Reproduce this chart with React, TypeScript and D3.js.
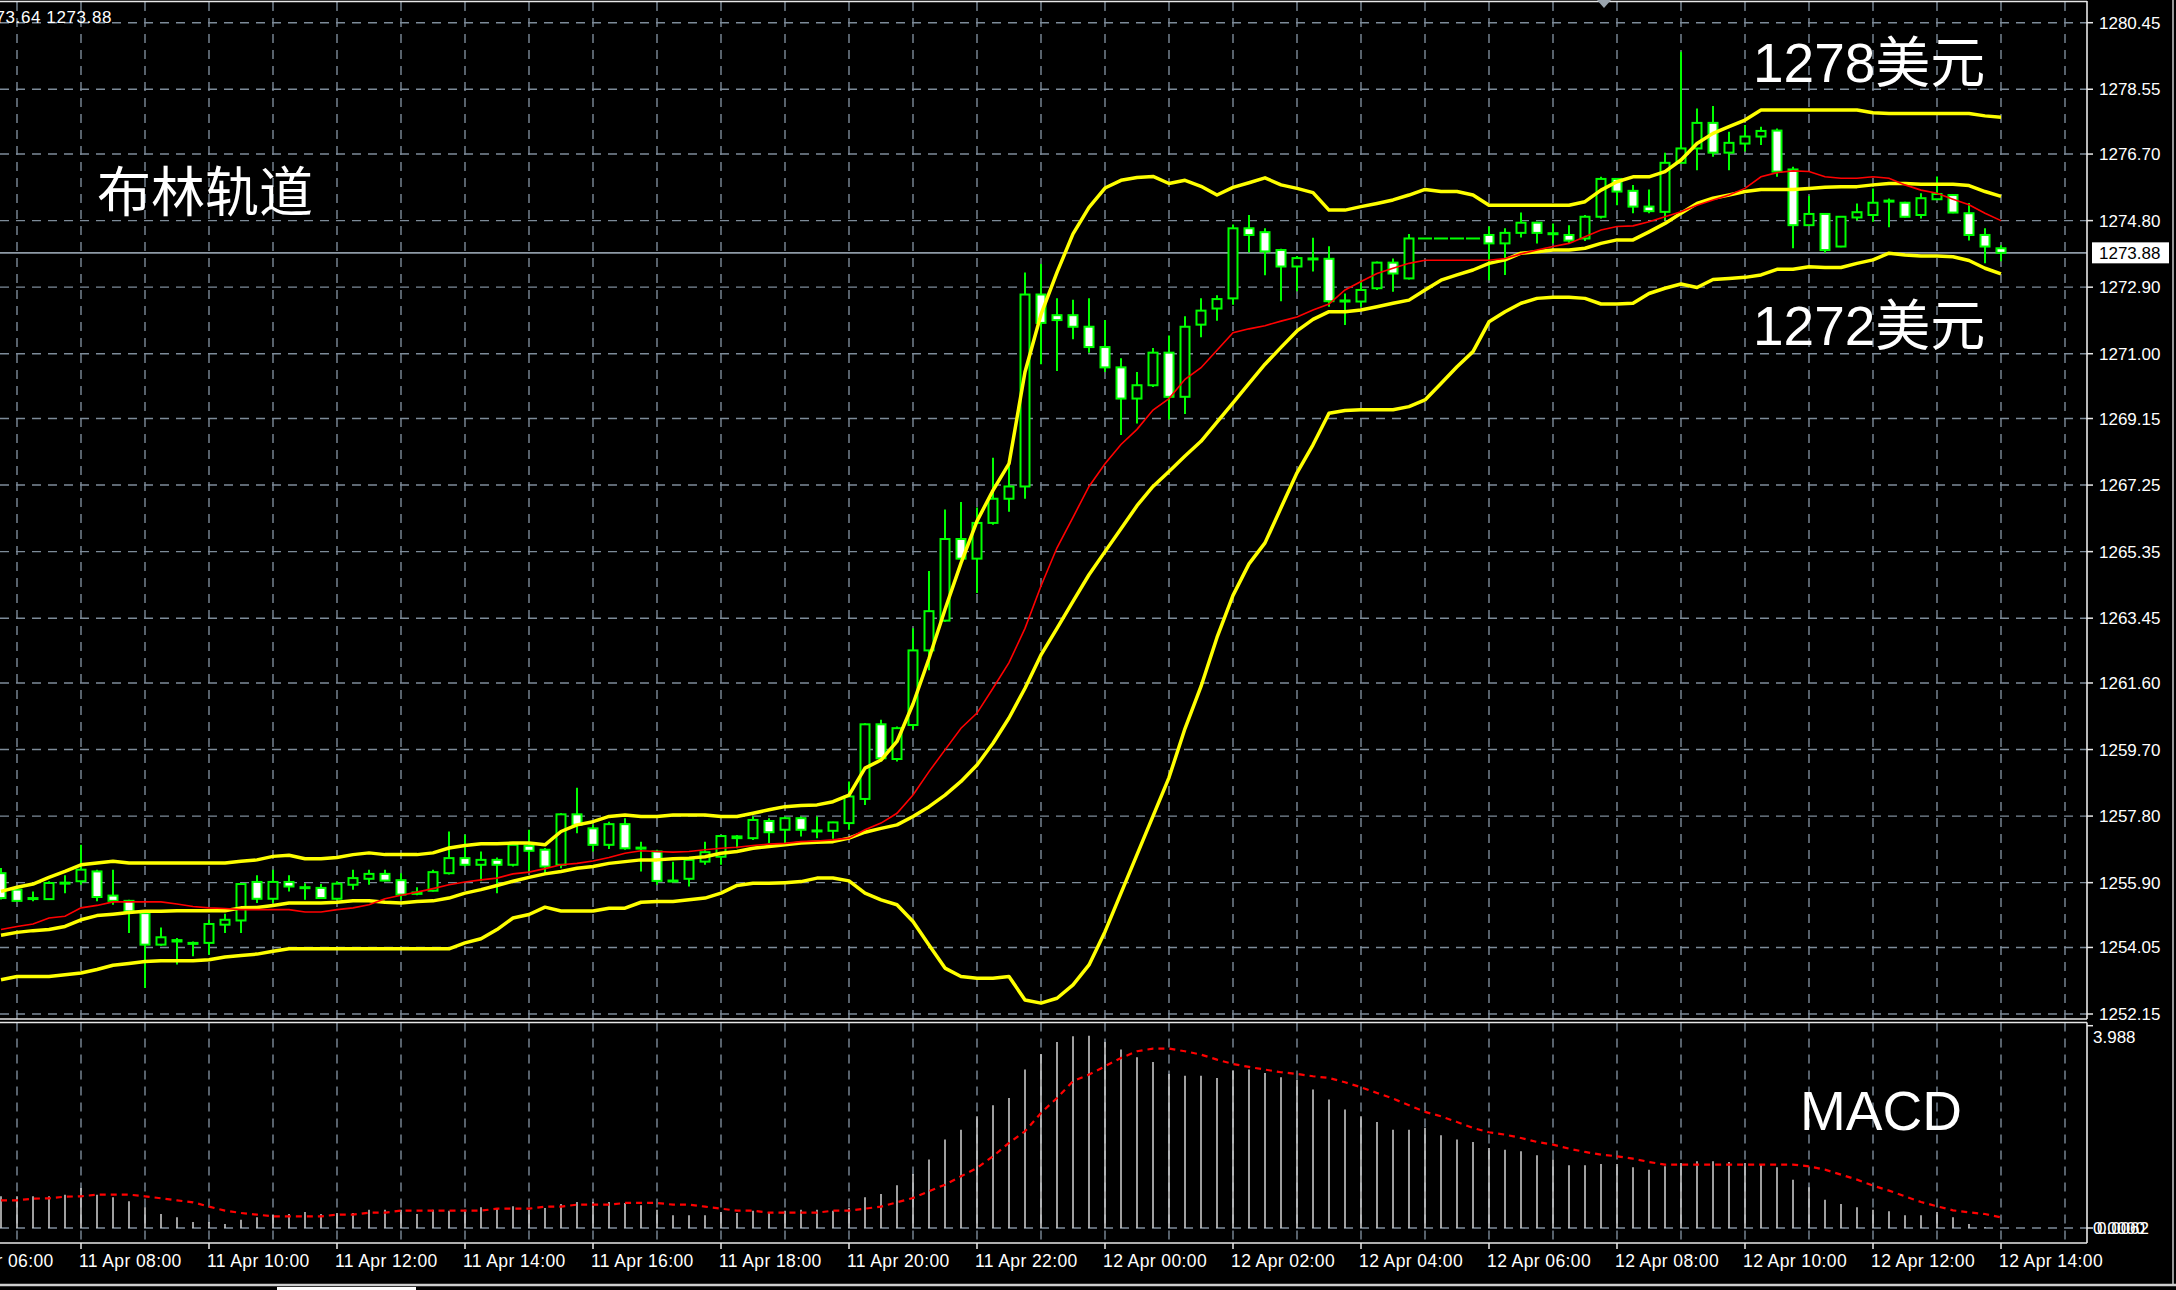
import * as d3 from "d3";

// M15 candles, 11 Apr 06:45 .. 12 Apr 14:00
const OPEN = [
  1256.17, 1255.70, 1255.46, 1255.43, 1255.88, 1255.94, 1256.22, 1255.53, 1255.38, 1255.03,
  1254.13, 1254.26, 1254.18, 1254.18, 1254.70, 1254.82, 1255.92, 1255.44, 1255.92, 1255.77,
  1255.75, 1255.44, 1255.84, 1256.01, 1256.15, 1255.97, 1255.58, 1255.67, 1256.17, 1256.60,
  1256.41, 1256.55, 1256.41, 1256.95, 1256.84, 1256.41, 1257.85, 1257.45, 1256.98, 1257.57,
  1256.88, 1256.79, 1255.96, 1256.01, 1256.50, 1256.64, 1257.17, 1257.17, 1257.66, 1257.41,
  1257.74, 1257.38, 1257.38, 1257.60, 1258.29, 1260.42, 1259.43, 1260.40, 1262.53, 1263.38,
  1265.71, 1265.15, 1266.17, 1266.86, 1267.21, 1272.69, 1272.10, 1272.10, 1271.77, 1271.19,
  1270.61, 1269.72, 1270.10, 1271.03, 1269.77, 1271.83, 1272.29, 1272.58, 1274.58, 1274.47,
  1273.96, 1273.49, 1273.71, 1273.71, 1272.52, 1272.49, 1272.87, 1273.60, 1273.15, 1274.29,
  1274.29, 1274.29, 1274.29, 1274.39, 1274.15, 1274.45, 1274.74, 1274.43, 1274.39, 1274.29,
  1274.91, 1275.99, 1275.65, 1275.20, 1275.05, 1276.45, 1276.86, 1277.59, 1276.74, 1277.00,
  1277.20, 1277.37, 1276.26, 1274.67, 1274.99, 1274.06, 1274.89, 1274.96, 1275.37, 1275.31,
  1274.96, 1275.41, 1275.53, 1275.01, 1274.39, 1274.01,
];
const HIGH = [
  1256.32, 1255.75, 1255.65, 1255.94, 1256.11, 1256.98, 1256.27, 1256.27, 1255.41, 1255.08,
  1254.62, 1254.32, 1254.22, 1254.84, 1255.01, 1255.89, 1256.11, 1256.27, 1256.11, 1255.88,
  1255.86, 1255.94, 1256.27, 1256.27, 1256.27, 1256.17, 1255.77, 1256.27, 1257.36, 1257.27,
  1256.79, 1256.62, 1257.03, 1257.41, 1256.89, 1257.89, 1258.61, 1257.55, 1257.64, 1257.74,
  1257.07, 1256.84, 1256.50, 1256.60, 1257.07, 1257.26, 1257.26, 1257.79, 1257.74, 1257.79,
  1257.79, 1257.79, 1257.64, 1258.79, 1260.45, 1260.55, 1260.36, 1263.16, 1264.80, 1266.55,
  1266.77, 1266.61, 1268.03, 1267.81, 1273.32, 1273.56, 1272.58, 1272.54, 1272.58, 1271.96,
  1270.87, 1270.48, 1271.16, 1271.52, 1272.07, 1272.58, 1272.67, 1274.69, 1274.96, 1274.58,
  1274.00, 1273.79, 1274.31, 1274.07, 1272.72, 1273.10, 1273.63, 1273.72, 1274.42, 1274.29,
  1274.29, 1274.29, 1274.29, 1274.63, 1274.58, 1275.03, 1274.77, 1274.72, 1274.67, 1274.96,
  1276.05, 1276.01, 1275.82, 1275.69, 1276.74, 1279.62, 1278.00, 1278.07, 1277.34, 1277.53,
  1277.48, 1277.43, 1276.34, 1275.50, 1275.01, 1274.93, 1275.29, 1275.72, 1275.43, 1275.34,
  1275.58, 1276.06, 1275.55, 1275.30, 1274.58, 1274.10,
];
const LOW = [
  1255.42, 1255.38, 1255.37, 1255.43, 1255.60, 1255.84, 1255.37, 1255.27, 1254.46, 1252.89,
  1254.10, 1253.56, 1253.80, 1253.84, 1254.46, 1254.46, 1255.32, 1255.32, 1255.65, 1255.41,
  1255.44, 1255.41, 1255.70, 1255.84, 1255.94, 1255.41, 1255.54, 1255.65, 1256.13, 1256.36,
  1255.94, 1255.60, 1256.36, 1256.22, 1256.17, 1256.31, 1257.31, 1256.79, 1256.86, 1256.84,
  1256.22, 1255.84, 1255.93, 1255.79, 1256.41, 1256.41, 1256.88, 1257.12, 1257.03, 1256.98,
  1257.22, 1257.17, 1257.15, 1257.41, 1258.12, 1259.36, 1259.36, 1260.27, 1261.96, 1263.35,
  1265.13, 1264.17, 1266.12, 1266.49, 1266.86, 1270.70, 1270.51, 1271.41, 1271.03, 1270.48,
  1268.68, 1269.01, 1270.05, 1269.12, 1269.28, 1271.47, 1271.94, 1272.40, 1273.89, 1273.24,
  1272.50, 1272.78, 1273.35, 1272.34, 1271.82, 1272.34, 1272.82, 1272.77, 1273.12, 1274.29,
  1274.29, 1274.29, 1274.29, 1273.10, 1273.25, 1274.32, 1274.15, 1274.15, 1274.15, 1274.22,
  1274.86, 1275.24, 1275.01, 1275.01, 1274.82, 1276.43, 1276.24, 1276.62, 1276.24, 1276.77,
  1276.96, 1276.05, 1274.01, 1274.65, 1273.88, 1274.04, 1274.80, 1274.77, 1274.61, 1274.89,
  1274.86, 1275.39, 1275.01, 1274.23, 1273.58, 1273.64,
];
const CLOSE = [
  1255.46, 1255.38, 1255.46, 1255.89, 1255.90, 1256.27, 1255.49, 1255.38, 1255.08, 1254.13,
  1254.34, 1254.22, 1254.18, 1254.72, 1254.84, 1255.86, 1255.44, 1255.92, 1255.79, 1255.77,
  1255.46, 1255.87, 1256.03, 1256.15, 1255.96, 1255.56, 1255.62, 1256.20, 1256.60, 1256.41,
  1256.55, 1256.41, 1256.98, 1256.81, 1256.36, 1257.85, 1257.55, 1256.98, 1257.57, 1256.88,
  1256.90, 1255.95, 1255.96, 1256.55, 1256.77, 1257.23, 1257.22, 1257.69, 1257.34, 1257.74,
  1257.41, 1257.39, 1257.62, 1258.36, 1260.42, 1259.45, 1260.31, 1262.53, 1263.65, 1265.71,
  1265.15, 1266.17, 1266.86, 1267.21, 1272.69, 1271.88, 1271.96, 1271.77, 1271.19, 1270.61,
  1269.72, 1270.10, 1271.03, 1269.77, 1271.77, 1272.23, 1272.56, 1274.58, 1274.39, 1273.92,
  1273.49, 1273.73, 1273.72, 1272.50, 1272.49, 1272.82, 1273.60, 1273.29, 1274.29, 1274.29,
  1274.29, 1274.29, 1274.29, 1274.15, 1274.45, 1274.74, 1274.45, 1274.44, 1274.23, 1274.91,
  1275.99, 1275.63, 1275.20, 1275.07, 1276.45, 1276.86, 1277.59, 1276.74, 1277.02, 1277.20,
  1277.36, 1276.20, 1274.67, 1274.99, 1273.96, 1274.91, 1275.04, 1275.31, 1275.36, 1274.91,
  1275.44, 1275.56, 1275.03, 1274.39, 1274.06, 1273.88,
];

// Bollinger bands
const BB_UPPER = [
  1255.65, 1255.77, 1255.86, 1256.05, 1256.22, 1256.41, 1256.46, 1256.51, 1256.46, 1256.46,
  1256.46, 1256.46, 1256.46, 1256.46, 1256.46, 1256.51, 1256.55, 1256.65, 1256.68, 1256.58,
  1256.58, 1256.62, 1256.70, 1256.75, 1256.70, 1256.70, 1256.70, 1256.75, 1256.89, 1256.96,
  1257.01, 1257.01, 1257.03, 1257.03, 1256.98, 1257.36, 1257.55, 1257.64, 1257.79, 1257.83,
  1257.79, 1257.79, 1257.83, 1257.83, 1257.83, 1257.79, 1257.79, 1257.88, 1257.98, 1258.07,
  1258.10, 1258.12, 1258.21, 1258.40, 1259.17, 1259.40, 1259.93, 1261.00, 1262.30, 1263.70,
  1265.02, 1266.22, 1267.10, 1267.86, 1270.48, 1272.12, 1273.32, 1274.42, 1275.18, 1275.73,
  1275.95, 1276.03, 1276.06, 1275.86, 1275.95, 1275.78, 1275.53, 1275.75, 1275.88, 1276.02,
  1275.82, 1275.72, 1275.60, 1275.10, 1275.10, 1275.20, 1275.29, 1275.39, 1275.53, 1275.69,
  1275.63, 1275.63, 1275.53, 1275.24, 1275.24, 1275.24, 1275.24, 1275.24, 1275.24, 1275.34,
  1275.67, 1275.91, 1276.05, 1276.05, 1276.20, 1276.53, 1277.00, 1277.29, 1277.48, 1277.67,
  1277.96, 1277.96, 1277.96, 1277.96, 1277.96, 1277.96, 1277.96, 1277.88, 1277.86, 1277.86,
  1277.86, 1277.86, 1277.86, 1277.86, 1277.79, 1277.75,
];
const BB_MIDDLE = [
  1254.40, 1254.48, 1254.53, 1254.56, 1254.65, 1254.84, 1254.96, 1255.00, 1255.05, 1255.08,
  1255.08, 1255.10, 1255.10, 1255.10, 1255.10, 1255.18, 1255.19, 1255.25, 1255.32, 1255.32,
  1255.32, 1255.34, 1255.38, 1255.38, 1255.34, 1255.32, 1255.36, 1255.38, 1255.46, 1255.60,
  1255.70, 1255.82, 1255.94, 1256.05, 1256.15, 1256.22, 1256.31, 1256.36, 1256.45, 1256.50,
  1256.55, 1256.55, 1256.58, 1256.60, 1256.64, 1256.74, 1256.79, 1256.88, 1256.93, 1256.98,
  1257.03, 1257.05, 1257.07, 1257.17, 1257.34, 1257.45, 1257.55, 1257.79, 1258.07, 1258.40,
  1258.79, 1259.26, 1259.88, 1260.60, 1261.45, 1262.40, 1263.16, 1263.93, 1264.69, 1265.35,
  1266.00, 1266.66, 1267.21, 1267.64, 1268.08, 1268.50, 1269.05, 1269.60, 1270.15, 1270.70,
  1271.18, 1271.65, 1271.98, 1272.20, 1272.20, 1272.25, 1272.34, 1272.44, 1272.53, 1272.82,
  1273.10, 1273.25, 1273.39, 1273.58, 1273.68, 1273.87, 1273.91, 1273.96, 1273.96, 1274.01,
  1274.15, 1274.25, 1274.25, 1274.48, 1274.72, 1275.01, 1275.29, 1275.44, 1275.53, 1275.63,
  1275.69, 1275.69, 1275.69, 1275.72, 1275.75, 1275.77, 1275.77, 1275.82, 1275.86, 1275.86,
  1275.84, 1275.84, 1275.84, 1275.80, 1275.63, 1275.49,
];
const BB_LOWER = [
  1253.13, 1253.22, 1253.22, 1253.22, 1253.27, 1253.32, 1253.42, 1253.54, 1253.59, 1253.65,
  1253.67, 1253.67, 1253.67, 1253.70, 1253.78, 1253.82, 1253.86, 1253.94, 1254.01, 1254.01,
  1254.01, 1254.01, 1254.01, 1254.01, 1254.01, 1254.01, 1254.01, 1254.01, 1254.01, 1254.18,
  1254.30, 1254.56, 1254.89, 1254.99, 1255.20, 1255.09, 1255.09, 1255.09, 1255.17, 1255.17,
  1255.34, 1255.36, 1255.36, 1255.41, 1255.46, 1255.60, 1255.82, 1255.88, 1255.88, 1255.90,
  1255.93, 1256.03, 1256.03, 1255.95, 1255.60, 1255.41, 1255.27, 1254.79, 1254.12, 1253.46,
  1253.22, 1253.17, 1253.17, 1253.22, 1252.55, 1252.46, 1252.60, 1252.98, 1253.55, 1254.50,
  1255.60, 1256.70, 1257.80, 1258.90, 1260.30, 1261.50, 1262.90, 1264.10, 1265.00, 1265.60,
  1266.60, 1267.60, 1268.40, 1269.30, 1269.38, 1269.40, 1269.40, 1269.40, 1269.49, 1269.68,
  1270.15, 1270.63, 1271.06, 1271.91, 1272.20, 1272.44, 1272.58, 1272.61, 1272.61, 1272.58,
  1272.42, 1272.42, 1272.44, 1272.72, 1272.87, 1272.99, 1272.89, 1273.12, 1273.15, 1273.18,
  1273.25, 1273.41, 1273.41, 1273.48, 1273.46, 1273.46, 1273.58, 1273.68, 1273.87, 1273.82,
  1273.79, 1273.79, 1273.77, 1273.66, 1273.44, 1273.28,
];
// red moving average
const MA_RED = [
  1254.56, 1254.65, 1254.72, 1254.89, 1254.94, 1255.18, 1255.25, 1255.35, 1255.35, 1255.35,
  1255.35, 1255.29, 1255.22, 1255.18, 1255.16, 1255.13, 1255.13, 1255.13, 1255.13, 1255.06,
  1255.06, 1255.13, 1255.18, 1255.27, 1255.44, 1255.54, 1255.63, 1255.73, 1255.84, 1255.92,
  1255.98, 1256.03, 1256.15, 1256.20, 1256.30, 1256.41, 1256.45, 1256.52, 1256.62, 1256.74,
  1256.81, 1256.79, 1256.77, 1256.79, 1256.84, 1256.88, 1256.91, 1256.96, 1257.00, 1257.02,
  1257.07, 1257.09, 1257.12, 1257.17, 1257.41, 1257.60, 1257.88, 1258.40, 1259.07, 1259.69,
  1260.31, 1260.74, 1261.45, 1262.18, 1263.16, 1264.37, 1265.46, 1266.33, 1267.21, 1267.86,
  1268.41, 1268.84, 1269.39, 1269.72, 1270.27, 1270.60, 1271.10, 1271.60, 1271.71, 1271.80,
  1271.93, 1272.05, 1272.25, 1272.42, 1272.82, 1273.06, 1273.29, 1273.44, 1273.58, 1273.67,
  1273.67, 1273.67, 1273.67, 1273.67, 1273.72, 1273.85, 1273.96, 1274.06, 1274.15, 1274.34,
  1274.53, 1274.63, 1274.65, 1274.77, 1274.91, 1275.05, 1275.24, 1275.39, 1275.53, 1275.72,
  1276.05, 1276.17, 1276.22, 1276.20, 1276.05, 1276.01, 1276.01, 1276.05, 1276.01, 1275.82,
  1275.67, 1275.58, 1275.41, 1275.25, 1275.01, 1274.80,
];

const MACD_HIST = [
  0.657, 0.657, 0.657, 0.657, 0.692, 0.830, 0.692, 0.636, 0.553, 0.429,
  0.290, 0.221, 0.124, 0.124, 0.083, 0.173, 0.221, 0.277, 0.290, 0.332,
  0.290, 0.311, 0.311, 0.380, 0.380, 0.380, 0.290, 0.380, 0.360, 0.380,
  0.429, 0.401, 0.450, 0.380, 0.415, 0.498, 0.539, 0.539, 0.539, 0.519,
  0.470, 0.380, 0.263, 0.263, 0.263, 0.332, 0.311, 0.360, 0.311, 0.360,
  0.380, 0.380, 0.360, 0.415, 0.636, 0.705, 0.885, 1.120, 1.418, 1.833,
  2.040, 2.317, 2.545, 2.697, 3.285, 3.610, 3.859, 3.976, 3.988, 3.859,
  3.700, 3.541, 3.444, 3.195, 3.160, 3.160, 3.112, 3.264, 3.285, 3.216,
  3.126, 3.077, 2.870, 2.663, 2.455, 2.317, 2.199, 2.040, 2.040, 2.075,
  1.923, 1.833, 1.784, 1.660, 1.625, 1.591, 1.508, 1.418, 1.300, 1.300,
  1.328, 1.328, 1.259, 1.210, 1.279, 1.349, 1.383, 1.383, 1.369, 1.349,
  1.328, 1.259, 1.003, 0.844, 0.588, 0.498, 0.429, 0.380, 0.346, 0.263,
  0.263, 0.332, 0.221, 0.083, 0.014, 0.0,
];
const MACD_SIGNAL = [
  0.574, 0.574, 0.609, 0.616, 0.650, 0.657, 0.692, 0.692, 0.692, 0.657,
  0.616, 0.574, 0.533, 0.443, 0.360, 0.311, 0.277, 0.242, 0.242, 0.242,
  0.242, 0.277, 0.277, 0.318, 0.318, 0.360, 0.360, 0.360, 0.360, 0.360,
  0.360, 0.401, 0.401, 0.401, 0.443, 0.443, 0.484, 0.484, 0.484, 0.519,
  0.519, 0.519, 0.484, 0.484, 0.443, 0.401, 0.360, 0.360, 0.318, 0.318,
  0.318, 0.318, 0.360, 0.360, 0.401, 0.443, 0.533, 0.622, 0.761, 0.899,
  1.072, 1.245, 1.487, 1.763, 2.006, 2.386, 2.697, 3.043, 3.181, 3.354,
  3.527, 3.665, 3.721, 3.721, 3.665, 3.596, 3.492, 3.402, 3.340, 3.285,
  3.230, 3.195, 3.147, 3.112, 3.022, 2.918, 2.801, 2.683, 2.545, 2.407,
  2.317, 2.199, 2.075, 1.985, 1.936, 1.867, 1.784, 1.729, 1.646, 1.577,
  1.521, 1.487, 1.438, 1.369, 1.314, 1.314, 1.314, 1.314, 1.314, 1.314,
  1.314, 1.314, 1.314, 1.279, 1.210, 1.107, 1.003, 0.878, 0.775, 0.657,
  0.539, 0.450, 0.367, 0.325, 0.290, 0.221,
];

const PRICE_TICKS = [
  1280.45, 1278.55, 1276.7, 1274.8, 1272.9, 1271.0, 1269.15, 1267.25,
  1265.35, 1263.45, 1261.6, 1259.7, 1257.8, 1255.9, 1254.05, 1252.15,
];
const TIME_LABELS = [
  "11 Apr 06:00", "11 Apr 08:00", "11 Apr 10:00", "11 Apr 12:00", "11 Apr 14:00",
  "11 Apr 16:00", "11 Apr 18:00", "11 Apr 20:00", "11 Apr 22:00", "12 Apr 00:00",
  "12 Apr 02:00", "12 Apr 04:00", "12 Apr 06:00", "12 Apr 08:00", "12 Apr 10:00",
  "12 Apr 12:00", "12 Apr 14:00",
];
const LAST_PRICE = 1273.88;
const MACD_MAX = 3.988;

const AXIS_FONT = "'Liberation Sans', Arial, sans-serif";
const CJK_FONT = "'Liberation Sans', 'Noto Sans CJK SC', sans-serif";
const GRID = "#7d8b99";
const PLOT_R = 2087;
const MAIN_BOTTOM = 1019;
const MACD_TOP = 1022.5;
const MACD_BOTTOM = 1243;

export default function App() {
  const x = d3.scaleLinear().domain([0, 125]).range([1, 2001]);
  const y = d3.scaleLinear().domain([1252.15, 1280.45]).range([1014, 22.7]);
  const ym = d3.scaleLinear().domain([0, MACD_MAX]).range([1228, 1035.7]);

  const priceLine = d3.line<number>().x((_, i) => x(i)).y((v) => y(v));
  const macdLine = d3.line<number>().x((_, i) => x(i)).y((v) => ym(v));

  const gridX = d3.range(1, 130, 4).map((i) => x(i));
  const labelIdx = TIME_LABELS.map((_, k) => -3 + 8 * k);

  return (
    <svg
      width={2176}
      height={1290}
      style={{ position: "absolute", left: 0, top: 0, background: "#000", display: "block" }}
    >
      <defs>
        <clipPath id="main">
          <rect x={0} y={0} width={PLOT_R} height={MAIN_BOTTOM} />
        </clipPath>
        <clipPath id="macd">
          <rect x={0} y={MACD_TOP} width={PLOT_R} height={MACD_BOTTOM - MACD_TOP} />
        </clipPath>
      </defs>
      <rect x={0} y={0} width={2176} height={1290} fill="#000" />

      {/* grid */}
      <g stroke={GRID} strokeWidth={1.4} strokeDasharray="9,7" fill="none">
        {PRICE_TICKS.map((t) => (
          <line key={"h" + t} x1={0} x2={PLOT_R} y1={y(t)} y2={y(t)} />
        ))}
        {gridX.map((gx) => (
          <line key={"v" + gx} x1={gx} x2={gx} y1={2} y2={MAIN_BOTTOM} />
        ))}
        {gridX.map((gx) => (
          <line key={"mv" + gx} x1={gx} x2={gx} y1={MACD_TOP} y2={MACD_BOTTOM} />
        ))}
        <line x1={0} x2={PLOT_R} y1={ym(0)} y2={ym(0)} />
      </g>

      {/* current price line */}
      <line x1={0} x2={PLOT_R} y1={y(LAST_PRICE)} y2={y(LAST_PRICE)} stroke="#8e9aa6" strokeWidth={1.6} />

      {/* candles */}
      <g clipPath="url(#main)">
        {CLOSE.map((c, i) => {
          const o = OPEN[i];
          const cx = x(i);
          const top = y(Math.max(o, c));
          const h = Math.max(Math.abs(y(o) - y(c)), 1);
          const flat = HIGH[i] === LOW[i];
          return (
            <g key={"c" + i}>
              <line x1={cx} x2={cx} y1={y(HIGH[i])} y2={y(LOW[i])} stroke="#00ff00" strokeWidth={2} />
              {flat ? (
                <line x1={cx - 7} x2={cx + 7} y1={top} y2={top} stroke="#00ff00" strokeWidth={2} />
              ) : (
                <rect
                  x={cx - 4.5}
                  y={top}
                  width={9}
                  height={h}
                  fill={c < o ? "#ffffff" : "#000000"}
                  stroke="#00ff00"
                  strokeWidth={2}
                />
              )}
            </g>
          );
        })}

        {/* Bollinger bands */}
        <g fill="none" stroke="#ffff00" strokeWidth={3.5} strokeLinejoin="round">
          <path d={priceLine(BB_UPPER) ?? ""} />
          <path d={priceLine(BB_MIDDLE) ?? ""} />
          <path d={priceLine(BB_LOWER) ?? ""} />
        </g>
        <path d={priceLine(MA_RED) ?? ""} fill="none" stroke="#ff0000" strokeWidth={1.6} />
      </g>

      {/* MACD */}
      <g clipPath="url(#macd)">
        {MACD_HIST.map((v, i) => (
          <line key={"m" + i} x1={x(i)} x2={x(i)} y1={ym(0)} y2={ym(v)} stroke="#c8c8c8" strokeWidth={1.6} />
        ))}
        <path
          d={macdLine(MACD_SIGNAL) ?? ""}
          fill="none"
          stroke="#ff0000"
          strokeWidth={2.2}
          strokeDasharray="6,5"
        />
      </g>

      {/* frames */}
      <g stroke="#e8e8e8" strokeWidth={1.6} fill="none">
        <line x1={0} x2={PLOT_R} y1={1.5} y2={1.5} />
        <line x1={PLOT_R} x2={PLOT_R} y1={1} y2={MAIN_BOTTOM} />
        <line x1={0} x2={PLOT_R} y1={MAIN_BOTTOM} y2={MAIN_BOTTOM} />
        <line x1={0} x2={PLOT_R} y1={MACD_TOP} y2={MACD_TOP} />
        <line x1={PLOT_R} x2={PLOT_R} y1={MACD_TOP} y2={MACD_BOTTOM} />
        <line x1={0} x2={PLOT_R} y1={MACD_BOTTOM} y2={MACD_BOTTOM} />
        <line x1={2173} x2={2173} y1={0} y2={1285} stroke="#bdbdbd" />
        <line x1={0} x2={2176} y1={1285} y2={1285} stroke="#cfcfcf" strokeWidth={2.5} />
      </g>
      <rect x={277} y={1287} width={139} height={3} fill="#ffffff" />

      {/* price axis */}
      <g fontFamily={AXIS_FONT} fontSize={17} fill="#ffffff">
        {PRICE_TICKS.map((t) => (
          <g key={"pt" + t}>
            <line x1={PLOT_R} x2={PLOT_R + 6} y1={y(t)} y2={y(t)} stroke="#e8e8e8" strokeWidth={1.5} />
            <text x={2099} y={y(t) + 6}>
              {t.toFixed(2)}
            </text>
          </g>
        ))}
        <rect x={2092} y={y(LAST_PRICE) - 10.5} width={77} height={21} fill="#ffffff" />
        <text x={2099} y={y(LAST_PRICE) + 6} fill="#000000">
          {LAST_PRICE.toFixed(2)}
        </text>
        <line x1={PLOT_R} x2={PLOT_R + 6} y1={ym(MACD_MAX) - 10} y2={ym(MACD_MAX) - 10} stroke="#e8e8e8" strokeWidth={1.5} />
        <text x={2093} y={ym(MACD_MAX) + 7}>
          {MACD_MAX.toFixed(3)}
        </text>
        <line x1={PLOT_R} x2={PLOT_R + 6} y1={ym(0)} y2={ym(0)} stroke="#e8e8e8" strokeWidth={1.5} />
        <text x={2093} y={ym(0) + 6}>0.0000</text>
        <text x={2097} y={ym(0) + 6}>0.0062</text>
        <text x={112} y={23} textAnchor="end" letterSpacing={0.6}>
          1274.01 1274.10 1273.64 1273.88
        </text>
      </g>

      {/* time axis */}
      <g fontFamily={AXIS_FONT} fontSize={17.5} fill="#ffffff" letterSpacing={0.4}>
        {TIME_LABELS.map((lab, k) => {
          const lx = x(labelIdx[k]);
          return (
            <g key={lab}>
              <line x1={lx} x2={lx} y1={MACD_BOTTOM} y2={MACD_BOTTOM + 6} stroke="#e8e8e8" strokeWidth={1.5} />
              <text x={lx - 2} y={1267}>
                {lab}
              </text>
            </g>
          );
        })}
      </g>

      {/* chart shift marker */}
      <path d="M1597,0 L1611,0 L1604,8 Z" fill="#9aa4ae" />

      {/* annotations */}
      <g fill="#ffffff">
        <text x={97} y={212} fontFamily="'Noto Sans CJK SC', sans-serif" fontSize={54}>
          布林轨道
        </text>
        <text x={1753} y={82} fontFamily={CJK_FONT} fontSize={55}>
          1278美元
        </text>
        <text x={1753} y={345} fontFamily={CJK_FONT} fontSize={55}>
          1272美元
        </text>
        <text x={1800} y={1130} fontFamily={AXIS_FONT} fontSize={55}>
          MACD
        </text>
      </g>
    </svg>
  );
}
